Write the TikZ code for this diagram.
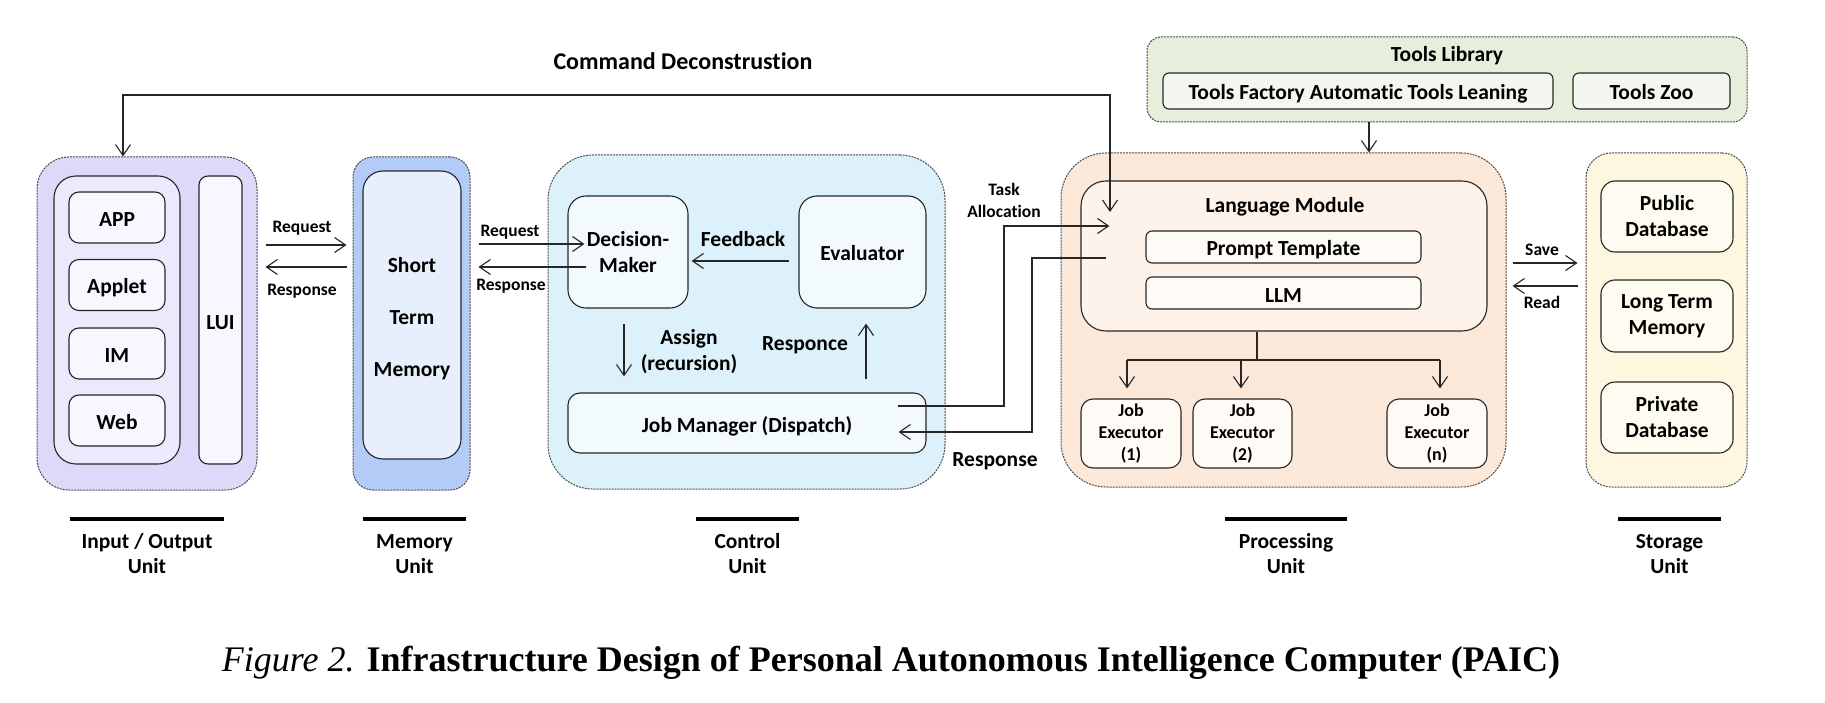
\documentclass[tikz,border=0pt]{standalone}
\usepackage{fontspec}
\setmainfont{Carlito}[Ligatures={NoCommon}]
\newfontfamily\capfont{Liberation Serif}
\usetikzlibrary{arrows.meta,calc}
\definecolor{ioOut}{HTML}{E0D8F8}
\definecolor{ioMid}{HTML}{EDE9FC}
\definecolor{ioIn}{HTML}{F8F6FE}
\definecolor{memOut}{HTML}{B3CBF7}
\definecolor{memIn}{HTML}{E8EFFC}
\definecolor{ctlOut}{HTML}{DDF1FB}
\definecolor{ctlIn}{HTML}{F3FAFE}
\definecolor{toolOut}{HTML}{E6EFDC}
\definecolor{toolIn}{HTML}{F3F7EF}
\definecolor{procOut}{HTML}{FBE8D9}
\definecolor{procMid}{HTML}{FDF3EA}
\definecolor{procIn}{HTML}{FEFAF5}
\definecolor{storOut}{HTML}{FCF7DE}
\definecolor{storIn}{HTML}{FEFCF0}
\newcommand\mainfs{\bfseries\fontsize{21.5}{26}\selectfont}
\newcommand\smallfs{\bfseries\fontsize{17.5}{22}\selectfont}
\newcommand\jefs{\bfseries\fontsize{18}{22}\selectfont}
\begin{document}
\begin{tikzpicture}[x=1pt,y=-1pt,
  outer/.style={draw=black!70, dash pattern=on 2pt off 1pt, line width=1pt, inner sep=0pt},
  box/.style={draw=black!85, line width=1.1pt, inner sep=0pt, align=center, font=\mainfs},
  oneline/.style={text height=23pt, text depth=5pt},
  lbl/.style={inner sep=0pt, align=center, font=\mainfs},
  slbl/.style={inner sep=0pt, align=center, font=\smallfs},
  conn/.style={draw=black!85, line width=1.1pt},
  >={Straight Barb[length=11pt,width=15pt]},
  bar/.style={line width=3.5pt, black}]
\fill[white] (0,0) rectangle (1825,703);
\useasboundingbox (0,0) rectangle (1825,703);

% Input / Output unit
\node[outer, fill=ioOut, rounded corners=32pt, minimum width=220pt, minimum height=333pt] (io) at (147,323.5) {};
\node[box, fill=ioMid, rounded corners=22pt, minimum width=126pt, minimum height=288pt] (ioin) at (117,320) {};
\node[box, oneline, fill=ioIn, rounded corners=10pt, minimum width=96pt, minimum height=51pt] (app) at (117,217.5) {APP};
\node[box, oneline, fill=ioIn, rounded corners=10pt, minimum width=96pt, minimum height=51pt] (applet) at (117,285) {Applet};
\node[box, oneline, fill=ioIn, rounded corners=10pt, minimum width=96pt, minimum height=51pt] (im) at (117,353.5) {IM};
\node[box, oneline, fill=ioIn, rounded corners=10pt, minimum width=96pt, minimum height=51pt] (web) at (117,420.5) {Web};
\node[box, oneline, fill=ioIn, rounded corners=9pt, minimum width=43pt, minimum height=288pt] (lui) at (220.5,320) {LUI};

% Memory unit
\node[outer, fill=memOut, rounded corners=20pt, minimum width=117pt, minimum height=333pt] (mem) at (411.5,323.5) {};
\node[box, fill=memIn, rounded corners=20pt, minimum width=98pt, minimum height=288pt] (stm) at (412,315) {};
\node[lbl, font=\bfseries\fontsize{21.5}{52}\selectfont] (stmlbl) at (412,318.5) {Short\\Term\\Memory};

% Control unit
\node[outer, fill=ctlOut, rounded corners=45pt, minimum width=397pt, minimum height=334pt] (ctl) at (746.5,322) {};
\node[box, fill=ctlIn, rounded corners=18pt, minimum width=120pt, minimum height=112pt] (dm) at (628,252) {Decision-\\Maker};
\node[box, oneline, fill=ctlIn, rounded corners=18pt, minimum width=127pt, minimum height=112pt] (ev) at (862.5,252) {Evaluator};
\node[box, oneline, fill=ctlIn, rounded corners=12pt, minimum width=358pt, minimum height=60pt] (jm) at (747,423) {Job Manager (Dispatch)};

% Tools library
\node[outer, fill=toolOut, rounded corners=14pt, minimum width=600pt, minimum height=85pt] (tools) at (1447,79.5) {};
\node[lbl] (toolslbl) at (1447,56) {Tools Library};
\node[box, oneline, fill=toolIn, rounded corners=6pt, minimum width=390pt, minimum height=36pt] (tf) at (1358,91) {Tools Factory Automatic Tools Leaning};
\node[box, oneline, fill=toolIn, rounded corners=6pt, minimum width=157pt, minimum height=36pt] (tz) at (1651.5,91) {Tools Zoo};

% Processing unit
\node[outer, fill=procOut, rounded corners=45pt, minimum width=445pt, minimum height=334pt] (proc) at (1283.5,320) {};
\node[box, fill=procMid, rounded corners=25pt, minimum width=406pt, minimum height=150pt] (lm) at (1284,256) {};
\node[lbl] (lmlbl) at (1285,207) {Language Module};
\node[box, oneline, fill=procIn, rounded corners=6pt, minimum width=275pt, minimum height=32pt] (pt) at (1283.5,247) {Prompt Template};
\node[box, oneline, fill=procIn, rounded corners=6pt, minimum width=275pt, minimum height=32pt] (llm) at (1283.5,293) {LLM};
\node[box, fill=procIn, rounded corners=12pt, minimum width=100pt, minimum height=69pt, font=\jefs] (je1) at (1131,433.5) {Job\\Executor\\(1)};
\node[box, fill=procIn, rounded corners=12pt, minimum width=99pt, minimum height=69pt, font=\jefs] (je2) at (1242.5,433.5) {Job\\Executor\\(2)};
\node[box, fill=procIn, rounded corners=12pt, minimum width=100pt, minimum height=69pt, font=\jefs] (jen) at (1437,433.5) {Job\\Executor\\(n)};

% Storage unit
\node[outer, fill=storOut, rounded corners=25pt, minimum width=161pt, minimum height=334pt] (stor) at (1666.5,320) {};
\node[box, fill=storIn, rounded corners=14pt, minimum width=132pt, minimum height=71pt] (pub) at (1667,216.5) {Public\\Database};
\node[box, fill=storIn, rounded corners=14pt, minimum width=132pt, minimum height=72pt] (ltm) at (1667,316) {Long Term\\Memory};
\node[box, fill=storIn, rounded corners=14pt, minimum width=132pt, minimum height=71pt] (priv) at (1667,417.5) {Private\\Database};

% Connectors
\coordinate (cmdL) at (123,95);
\coordinate (cmdR) at (1110,95);
\coordinate (lmIn) at (1110,212);
\draw[conn,<->] (io.north -| cmdL) -- (cmdL) -- (cmdR) -- (lmIn);
\node[lbl, font=\bfseries\fontsize{24}{28}\selectfont] (cmdlbl) at (683,61) {Command Deconstrustion};

\draw[conn,->,shorten <=8pt,shorten >=6pt] (io.east |- 0,245) -- (mem.west |- 0,245);
\draw[conn,->,shorten <=6pt,shorten >=8pt] (mem.west |- 0,267) -- (io.east |- 0,267);
\node[slbl] (req1) at (302,228) {Request};
\node[slbl] (resp1) at (302,291) {Response};

\draw[conn,->,shorten <=8pt,shorten >=-17pt] (mem.east |- 0,244) -- (dm.west |- 0,244);
\draw[conn,->,shorten <=-19pt,shorten >=8pt] (dm.west |- 0,267) -- (mem.east |- 0,267);
\node[slbl] (req2) at (510,232) {Request};
\node[slbl] (resp2) at (511,286) {Response};

\draw[conn,->,shorten <=9pt,shorten >=3pt] (ev.west |- 0,261) -- (dm.east |- 0,261);
\node[lbl] (fb) at (743,239) {Feedback};
\draw[conn,->,shorten <=15pt,shorten >=16pt] (dm.south -| 624,0) -- (jm.north -| 624,0);
\node[lbl] (asg) at (689,352) {Assign\\(recursion)};
\draw[conn,->,shorten <=13pt,shorten >=15pt] (jm.north -| 866,0) -- (ev.south -| 866,0);
\node[lbl] (rsp) at (805,345) {Responce};

\coordinate (ta1) at (1004,226);
\draw[conn,->,shorten <=-29pt,shorten >=-29pt] (jm.east |- 0,406) -| (ta1) -- (lm.west |- 0,226);
\node[slbl] (talbl) at (1004,200) {Task\\Allocation};
\coordinate (rs1) at (1032,258);
\draw[conn,->,shorten <=-26pt,shorten >=-28pt] (lm.west |- 0,258) -- (rs1) |- (jm.east |- 0,432);
\node[lbl] (rslbl) at (995,461) {Response};

\draw[conn,->] (tools.south -| 1369,0) -- (proc.north -| 1369,0);

\coordinate (tr) at (1257,360);
\draw[conn] (lm.south -| tr) -- (tr);
\draw[conn] (tr -| 1127,0) -- (tr -| 1440,0);
\draw[conn,->,shorten >=10pt] (tr -| 1127,0) -- (je1.north -| 1127,0);
\draw[conn,->,shorten >=10pt] (tr -| 1241,0) -- (je2.north -| 1241,0);
\draw[conn,->,shorten >=10pt] (tr -| 1440,0) -- (jen.north -| 1440,0);

\draw[conn,->,shorten <=6pt,shorten >=8pt] (proc.east |- 0,263) -- (stor.west |- 0,263);
\draw[conn,->,shorten <=8pt,shorten >=6pt] (stor.west |- 0,286) -- (proc.east |- 0,286);
\node[slbl] (save) at (1542,250) {Save};
\node[slbl] (read) at (1542,302) {Read};

% Unit labels
\draw[bar] (70,519) -- (224,519);
\draw[bar] (363,519) -- (466,519);
\draw[bar] (696,519) -- (799,519);
\draw[bar] (1225,519) -- (1347,519);
\draw[bar] (1618,519) -- (1721,519);
\node[lbl, font=\bfseries\fontsize{21.5}{25}\selectfont] (u1) at (147,554) {Input / Output\\Unit};
\node[lbl, font=\bfseries\fontsize{21.5}{25}\selectfont] (u2) at (414.5,554) {Memory\\Unit};
\node[lbl, font=\bfseries\fontsize{21.5}{25}\selectfont] (u3) at (747.5,554) {Control\\Unit};
\node[lbl, font=\bfseries\fontsize{21.5}{25}\selectfont] (u4) at (1286,554) {Processing\\Unit};
\node[lbl, font=\bfseries\fontsize{21.5}{25}\selectfont] (u5) at (1669.5,554) {Storage\\Unit};

\node[inner sep=0pt] (cap) at (891,663) {\capfont\fontsize{36}{42}\selectfont\textit{Figure 2.} \textbf{Infrastructure Design of Personal Autonomous Intelligence Computer (PAIC)}};
\end{tikzpicture}
\end{document}
